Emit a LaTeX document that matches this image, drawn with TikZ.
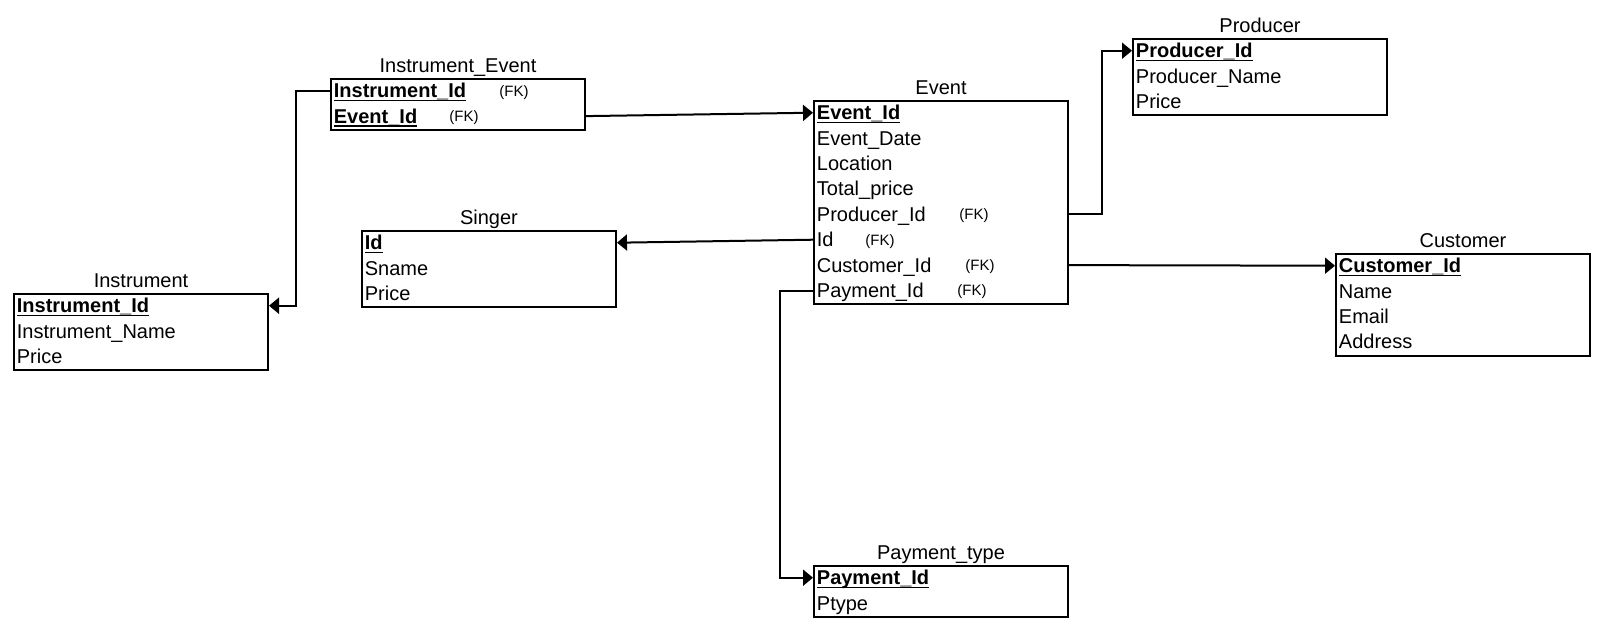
\documentclass[tikz,border=0pt]{standalone}
\usepackage{fontspec}
\setmainfont{Liberation Sans}
\usetikzlibrary{arrows.meta}

% primary key: bold with an underline rule
\newcommand\pkey[1]{\setbox0\hbox{\textbf{#1}}\rlap{\rule[-1.8pt]{\wd0}{0.75pt}}\box0}

\tikzset{
  tablebox/.style={draw, line width=1pt, minimum width=127pt, inner sep=0pt, anchor=north west},
  tabletitle/.style={anchor=base, inner sep=0pt, font=\fontsize{10}{12}\selectfont},
  fieldtxt/.style={anchor=base west, inner sep=0pt, font=\fontsize{10}{12}\selectfont},
  fktxt/.style={anchor=base west, inner sep=0pt, font=\fontsize{7.5}{9}\selectfont},
  fkline/.style={line width=1pt, -{Triangle[length=5pt,width=8pt]}},
}

% name, left x, top y, number of rows, title, fields
\newcommand\erdtable[6]{%
  \node[tablebox, minimum height=#4*12.7pt] (#1) at (#2,#3) {};
  \node[tabletitle] (#1-title) at ([yshift=2.75pt]#1.north) {#5};
  \foreach \f [count=\i] in {#6} {
    \coordinate (#1-\i) at (#2,#3+\i*25.4-12.7);
    \node[fieldtxt] (#1-t\i) at ([xshift=1.75pt,yshift=-3.5pt]#1-\i) {\f};
  }%
}

\begin{document}
\begin{tikzpicture}[x=0.5pt,y=-0.5pt]
\useasboundingbox (0,0) rectangle (1600,629);

\erdtable{ie}{330}{78}{2}{Instrument\_Event}{\pkey{Instrument\_Id},\pkey{Event\_Id}}
\erdtable{in}{13}{293}{3}{Instrument}{\pkey{Instrument\_Id},Instrument\_Name,Price}
\erdtable{sg}{361}{230}{3}{Singer}{\pkey{Id},Sname,Price}
\erdtable{ev}{813}{100}{8}{Event}{\pkey{Event\_Id},Event\_Date,Location,Total\_price,Producer\_Id,Id,Customer\_Id,Payment\_Id}
\erdtable{pr}{1132}{38}{3}{Producer}{\pkey{Producer\_Id},Producer\_Name,Price}
\erdtable{cu}{1335}{253}{4}{Customer}{\pkey{Customer\_Id},Name,Email,Address}
\erdtable{pt}{813}{565}{2}{Payment\_type}{\pkey{Payment\_Id},Ptype}

% foreign key markers
\node[fktxt] (ie-fk1) at ([xshift=84.5pt,yshift=-2.7pt]ie-1) {(FK)};
\node[fktxt] (ie-fk2) at ([xshift=59.5pt,yshift=-2.7pt]ie-2) {(FK)};
\node[fktxt] (ev-fk5) at ([xshift=73pt,yshift=-2.7pt]ev-5) {(FK)};
\node[fktxt] (ev-fk6) at ([xshift=26pt,yshift=-2.7pt]ev-6) {(FK)};
\node[fktxt] (ev-fk7) at ([xshift=76pt,yshift=-2.7pt]ev-7) {(FK)};
\node[fktxt] (ev-fk8) at ([xshift=72pt,yshift=-2.7pt]ev-8) {(FK)};

% relationships
\draw[fkline] (ie.west |- ie-1) -- ++(-34,0) |- (in.east |- in-1);
\draw[fkline] (ie.east |- ie-2) -- (ev.west |- ev-1);
\draw[fkline] (ev.east |- ev-5) -- ++(33,0) |- (pr.west |- pr-1);
\draw[fkline] (ev.west |- ev-6) -- (sg.east |- sg-1);
\draw[fkline] (ev.east |- ev-7) -- (cu.west |- cu-1);
\draw[fkline] (ev.west |- ev-8) -- ++(-33,0) |- (pt.west |- pt-1);
\end{tikzpicture}
\end{document}
